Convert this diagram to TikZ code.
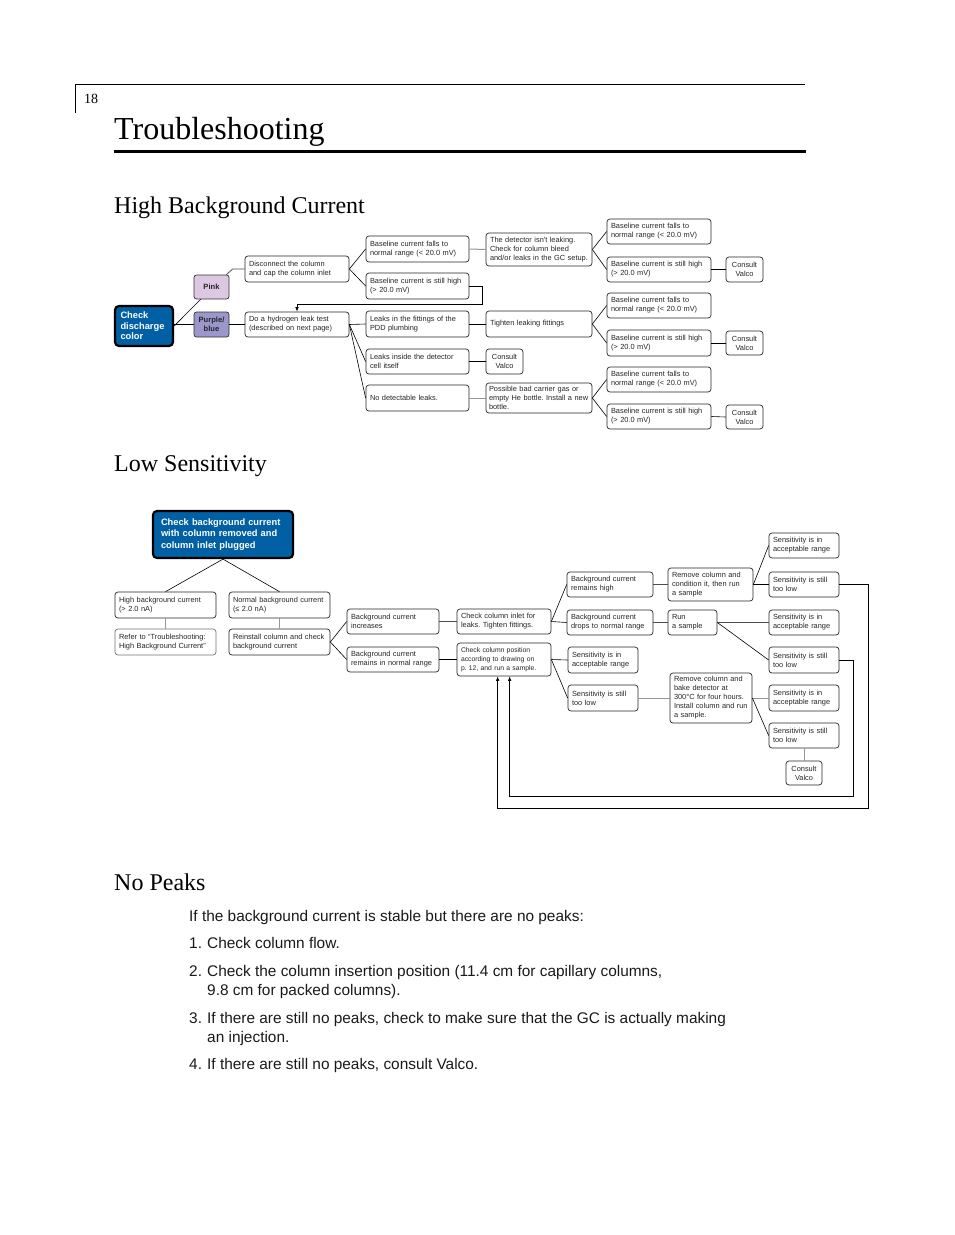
\documentclass[tikz,border=0pt]{standalone}
\usepackage{fontspec}
\setmainfont{Liberation Serif}
\setsansfont{Liberation Sans}
\newfontfamily\hv{Liberation Sans}
\usetikzlibrary{arrows.meta,calc}
\definecolor{bluefill}{RGB}{0,96,163}
\definecolor{pinkfill}{RGB}{220,200,226}
\definecolor{purplefill}{RGB}{155,150,204}
\definecolor{graylink}{RGB}{150,150,150}
\newcommand{\flowbox}[7][]{%
  \pgfmathsetmacro\fbw{#4-#2}%
  \pgfmathsetmacro\fbh{#5-#3}%
  \pgfmathsetmacro\fbt{#4-#2-8}%
  \node[fbx, minimum width=\fbw pt, minimum height=\fbh pt, text width=\fbt pt, #1] (#6) at ({(#2+#4)/2},{(#3+#5)/2}) {#7};}
\tikzset{
  fbx/.style={draw=black!85, line width=0.7pt, rounded corners=3pt, fill=white, inner xsep=4pt, inner ysep=0pt, align=left, font=\hv\fontsize{7.4}{9}\selectfont, text=black!85},
  cv/.style={align=center, inner xsep=1pt, text width=34pt},
  bluebox/.style={fill=bluefill, draw=black, line width=2.2pt, rounded corners=4pt, text=white, font=\hv\bfseries\fontsize{9.3}{10.5}\selectfont},
  link/.style={draw=black, line width=0.6pt},
  dlink/.style={draw=black!70, line width=0.8pt},
  glink/.style={draw=graylink, line width=1pt},
  arr/.style={link, -{Latex[length=4.5pt,width=3.5pt]}},
  head/.style={anchor=base west, inner sep=0pt, font=\fontsize{24}{24}\selectfont},
  body/.style={anchor=base west, inner sep=0pt, font=\hv\fontsize{15.4}{19}\selectfont, text=black!90},
}
\begin{document}
\frenchspacing
\begin{tikzpicture}[x=1pt,y=-1pt]
\useasboundingbox (0,0) rectangle (954,1235);
% header
\draw[line width=0.6pt] (75,113) -- (75,84) -- (805,84);
\node[anchor=base west, inner sep=0pt, font=\fontsize{14}{14}\selectfont] (pg) at (84,103) {18};
\node[anchor=base west, inner sep=0pt, font=\fontsize{32}{32}\selectfont] (title) at (114,139) {Troubleshooting};
\draw[line width=3pt] (114,151) -- (806,151);
\node[head] (h1) at (114,213) {High Background Current};
\node[head] (h2) at (114,471) {Low Sensitivity};
\node[head] (h3) at (114,890) {No Peaks};

% ---------------- High background current
\flowbox[bluebox, inner xsep=5.5pt, text width=47pt]{115}{306}{173}{346}{chk}{Check\\discharge\\color}
\flowbox[fill=pinkfill, draw=black!80, rounded corners=2.5pt, align=center, inner xsep=1pt, text width=32pt, font=\hv\bfseries\fontsize{7.6}{9}\selectfont]{194}{275}{229}{299}{pink}{Pink}
\flowbox[fill=purplefill, draw=black!80, rounded corners=2.5pt, align=center, inner xsep=1pt, text width=32pt, font=\hv\bfseries\fontsize{7.6}{9}\selectfont]{194}{312}{229}{337}{purple}{Purple/\\blue}
\flowbox{245}{256}{349}{282}{disc}{Disconnect the column\\and cap the column inlet}
\flowbox{245}{312}{349}{337}{hyd}{Do a hydrogen leak test\\(described on next page)}
\flowbox{366}{236}{469}{262}{fall1}{Baseline current falls to\\normal range (< 20.0 mV)}
\flowbox{366}{273}{469}{299}{high1}{Baseline current is still high\\(> 20.0 mV)}
\flowbox{366}{311}{469}{337}{fit}{Leaks in the fittings of the\\PDD plumbing}
\flowbox{366}{349}{469}{374}{inside}{Leaks inside the detector\\cell itself}
\flowbox{366}{385}{469}{411}{nodet}{No detectable leaks.}
\flowbox{486}{233}{592}{266}{det}{The detector isn't leaking.\\Check for column bleed\\and/or leaks in the GC setup.}
\flowbox{486}{311}{592}{337}{tight}{Tighten leaking fittings}
\flowbox[cv]{486}{349}{523}{374}{cv1}{Consult\\Valco}
\flowbox[inner xsep=3pt, text width=100pt]{486}{383}{592}{413}{poss}{Possible bad carrier gas or\\empty He bottle. Install a new\\bottle.}
\flowbox{607}{219}{711}{244}{fallA}{Baseline current falls to\\normal range (< 20.0 mV)}
\flowbox{607}{257}{711}{282}{highA}{Baseline current is still high\\(> 20.0 mV)}
\flowbox[cv]{726}{257}{763}{282}{cvA}{Consult\\Valco}
\flowbox{607}{293}{711}{318}{fallB}{Baseline current falls to\\normal range (< 20.0 mV)}
\flowbox{607}{330}{711}{356}{highB}{Baseline current is still high\\(> 20.0 mV)}
\flowbox[cv]{726}{331}{763}{355}{cvB}{Consult\\Valco}
\flowbox{607}{367}{711}{392}{fallC}{Baseline current falls to\\normal range (< 20.0 mV)}
\flowbox{607}{404}{711}{429}{highC}{Baseline current is still high\\(> 20.0 mV)}
\flowbox[cv]{726}{405}{763}{429}{cvC}{Consult\\Valco}

\draw[link] (chk.east) -- ($(pink.south west)+(7,0)$);
\draw[link] (purple.west -| chk.east) -- (purple.west);
\draw[dlink] ($(pink.north east)+(-3,0)$) -- ($(disc.west)+(-12,0)$) -- (disc.west);
\draw[link] (purple.east) -- (hyd.west);
\draw[link] (disc.east) -- (fall1.west);
\draw[link] (disc.east) -- (high1.west);
\draw[arr] (high1.east) -- ++(13,0) -- ++(0,18) -| (hyd.north);
\draw[link] (hyd.east) -- (fit.west);
\draw[link] (hyd.east) -- (inside.west);
\draw[link] (hyd.east) -- (nodet.west);
\draw[glink] (fall1.east) -- (det.west);
\draw[link] (fit.east) -- (tight.west);
\draw[link] (inside.east) -- (cv1.west);
\draw[glink] (nodet.east) -- (poss.west);
\draw[link] (det.east) -- (fallA.west);
\draw[link] (det.east) -- (highA.west);
\draw[link] (tight.east) -- (fallB.west);
\draw[link] (tight.east) -- (highB.west);
\draw[link] (poss.east) -- (fallC.west);
\draw[link] (poss.east) -- (highC.west);
\draw[link] (highA.east) -- (cvA.west);
\draw[link] (highB.east) -- (cvB.west);
\draw[link] (highC.east) -- (cvC.west);

% ---------------- Low sensitivity
\flowbox[bluebox, inner xsep=8pt, text width=124pt, font=\hv\bfseries\fontsize{9.3}{11.5}\selectfont]{153}{511}{293}{558}{ls}{Check background current\\with column removed and\\column inlet plugged}
\flowbox{115}{592}{216}{618}{hbg}{High background current\\(> 2.0 nA)}
\flowbox{229}{592}{330}{618}{nbg}{Normal background current\\(≤ 2.0 nA)}
\flowbox[draw=black!55]{115}{629}{216}{655}{refer}{Refer to “Troubleshooting:\\High Background Current”}
\flowbox{229}{629}{330}{655}{rein}{Reinstall column and check\\background current}
\flowbox{347}{609}{439}{634}{inc}{Background current\\increases}
\flowbox{347}{647}{439}{672}{rem}{Background current\\remains in normal range}
\flowbox{457}{609}{551}{634}{inlet}{Check column inlet for\\leaks. Tighten fittings.}
\flowbox[font=\hv\fontsize{6.8}{9}\selectfont]{457}{643}{551}{676}{pos}{Check column position\\according to drawing on\\p. 12, and run a sample.}
\flowbox{567}{572}{653}{597}{rhigh}{Background current\\remains high}
\flowbox{567}{610}{653}{635}{drops}{Background current\\drops to normal range}
\flowbox{668}{568}{753}{601}{cond}{Remove column and\\condition it, then run\\a sample}
\flowbox{668}{610}{717}{635}{run}{Run\\a sample}
\flowbox{769}{533}{839}{558}{sA}{Sensitivity is in\\acceptable range}
\flowbox{769}{572}{839}{597}{lA}{Sensitivity is still\\too low}
\flowbox{769}{610}{839}{635}{sB}{Sensitivity is in\\acceptable range}
\flowbox{769}{647}{839}{673}{lB}{Sensitivity is still\\too low}
\flowbox{568}{647}{638}{673}{sC}{Sensitivity is in\\acceptable range}
\flowbox{568}{685}{638}{711}{lC}{Sensitivity is still\\too low}
\flowbox{670}{673}{752}{723}{bake}{Remove column and\\bake detector at\\300°C for four hours.\\Install column and run\\a sample.}
\flowbox{769}{685}{839}{711}{sD}{Sensitivity is in\\acceptable range}
\flowbox{769}{723}{839}{748}{lD}{Sensitivity is still\\too low}
\flowbox[cv]{786}{761}{822}{785}{cv2}{Consult\\Valco}

\draw[link] (ls.south) -- (hbg.north);
\draw[link] (ls.south) -- (nbg.north);
\draw[glink] (hbg.south) -- (refer.north);
\draw[glink] (nbg.south) -- (rein.north);
\draw[link] (rein.east) -- (inc.west);
\draw[link] (rein.east) -- (rem.west);
\draw[dlink] (inc.east) -- (inlet.west);
\draw[link] (rem.east) -- (pos.west);
\draw[link] (inlet.east) -- (rhigh.west);
\draw[link] (inlet.east) -- (drops.west);
\draw[dlink] (rhigh.east) -- (cond.west);
\draw[dlink] (drops.east) -- (run.west);
\draw[link] (cond.east) -- (sA.west);
\draw[link] (cond.east) -- (lA.west);
\draw[dlink] (run.east) -- (sB.west);
\draw[link] (run.east) -- (lB.west);
\draw[link] (pos.east) -- (sC.west);
\draw[link] (pos.east) -- (lC.west);
\draw[glink] (lC.east) -- (bake.west);
\draw[glink] (bake.east) -- (sD.west);
\draw[link] (bake.east) -- (lD.west);
\draw[glink] (lD.south) -- (cv2.north);
\coordinate (fbA) at (868,808);
\coordinate (fbB) at (853,796);
\draw[arr] (lA.east) -| (fbA) -| ($(pos.south west)+(41,0)$);
\draw[arr] (lB.east) -| (fbB) -| ($(pos.south west)+(53,0)$);

% ---------------- No peaks
\node[body] (np0) at (189,921) {If the background current is stable but there are no peaks:};
\node[body] (n1) at (189,948) {1.};
\node[body] (t1) at (207,948) {Check column flow.};
\node[body] (n2) at (189,976) {2.};
\node[body] (t2a) at (207,976) {Check the column insertion position (11.4 cm for capillary columns,};
\node[body] (t2b) at (207,995) {9.8 cm for packed columns).};
\node[body] (n3) at (189,1023) {3.};
\node[body] (t3a) at (207,1023) {If there are still no peaks, check to make sure that the GC is actually making};
\node[body] (t3b) at (207,1042) {an injection.};
\node[body] (n4) at (189,1069) {4.};
\node[body] (t4) at (207,1069) {If there are still no peaks, consult Valco.};
\end{tikzpicture}
\end{document}
